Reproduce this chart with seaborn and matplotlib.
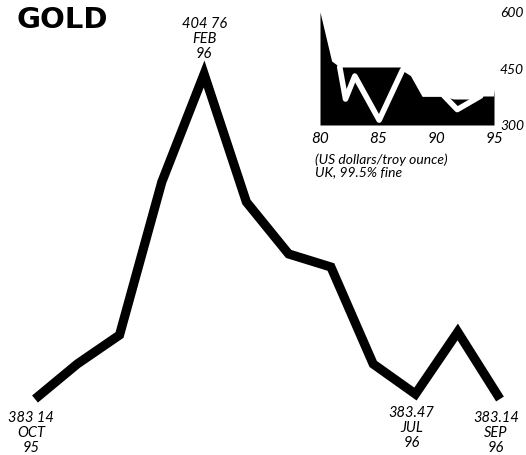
import matplotlib
matplotlib.use("Agg")
import matplotlib.pyplot as plt
import seaborn as sns
import numpy as np
import pandas as pd

# Main series: monthly gold price Oct 95 - Sep 96
months = ["OCT 95", "NOV 95", "DEC 95", "JAN 96", "FEB 96", "MAR 96",
          "APR 96", "MAY 96", "JUN 96", "JUL 96", "AUG 96", "SEP 96"]
prices = [383.14, 385.47, 387.40, 397.58, 404.76, 396.25,
          392.79, 391.92, 385.47, 383.47, 387.60, 383.14]

# Labelled points: (index, value text, month, year)
label_idx = [0, 4, 9, 11]
label_val = ["383 14", "404 76", "383.47", "383.14"]
label_mon = ["OCT", "FEB", "JUL", "SEP"]
label_yr = ["95", "96", "96", "96"]

# Inset: long-term price range (filled) and white line
fill_years = [80, 81.0, 81.7, 86.9, 87.1, 87.8, 88.8, 90.1, 90.7, 91.5, 93.2, 93.85, 94.95, 95]
fill_top = [600, 470, 454, 454, 445, 431, 376, 376, 376, 369, 369, 377, 377, 395]
wline1_years = [81.7, 82.2, 83.0, 85.1, 87.1]
wline1_vals = [454, 369, 430, 313, 445]
wline2_years = [90.67, 91.83, 93.85]
wline2_vals = [378, 341, 377]
inset_xticks = [80, 85, 90, 95]
inset_yticks = [300, 450, 600]

sns.set_style("white")
plt.rcParams['font.family'] = ['Lato', 'DejaVu Sans']
plt.rcParams['text.color'] = 'black'
plt.rcParams['xtick.color'] = 'black'
plt.rcParams['xtick.labelcolor'] = 'black'

fig = plt.figure(figsize=(5.26, 4.56), dpi=100)
ax = fig.add_axes([0, 0, 1, 1])
df = pd.DataFrame({"i": np.arange(len(prices)), "p": prices})
sns.lineplot(data=df, x="i", y="p", ax=ax, color="black", linewidth=6.6)
for ln in ax.get_lines():
    ln.set_solid_joinstyle("miter")
    ln.set_solid_capstyle("butt")
ax.set_xlim(-0.828, 11.615)
ax.set_ylim(379.415, 409.75)
ax.axis("off")

# labels
for k, i in enumerate(label_idx):
    x = i
    y = prices[i]
    txt = f"{label_val[k]}\n{label_mon[k]}\n{label_yr[k]}"
    if label_mon[k] == "FEB":
        ax.annotate(txt, (x, y), xytext=(0, 10), textcoords="offset points",
                    ha="center", va="bottom", fontsize=10.5, style="italic",
                    linespacing=1.1, color="black")
    else:
        ax.annotate(txt, (x, y), xytext=(-3, -8), textcoords="offset points",
                    ha="center", va="top", fontsize=10.5, style="italic",
                    linespacing=1.1, color="black")

fig.text(17/526, 1 - 28/456, "GOLD", fontsize=21, fontweight="bold",
         family=["DejaVu Sans"], ha="left", va="baseline", color="black")

# inset
axi = fig.add_axes([320/526, 1 - 126/456, 174/526, 113/456])
axi.fill_between(fill_years, 300, fill_top, color="black", lw=0)
sns.lineplot(x=wline1_years, y=wline1_vals, ax=axi, color="white", linewidth=4.0)
sns.lineplot(x=wline2_years, y=wline2_vals, ax=axi, color="white", linewidth=4.0)
axi.set_xlim(80, 95)
axi.set_ylim(300, 600)
for s in axi.spines.values():
    s.set_visible(False)
axi.set_xticks(inset_xticks)
axi.set_xticklabels([str(t) for t in inset_xticks], fontsize=11, style="italic",
                    color="black")
axi.tick_params(axis="x", length=0, pad=4)
axi.set_yticks([])
for v in inset_yticks:
    axi.text((524 - 320) / 174, (v - 300) / 300, str(v), transform=axi.transAxes,
             fontsize=10, style="italic", ha="right", va="center", color="black")
axi.patch.set_alpha(0)

fig.text(315/526, 1 - 166/456, "(US dollars/troy ounce)\nUK, 99.5% fine",
         fontsize=10, style="italic", ha="left", va="center", linespacing=1.0,
         color="black")

fig.savefig("out.png", dpi=100)
